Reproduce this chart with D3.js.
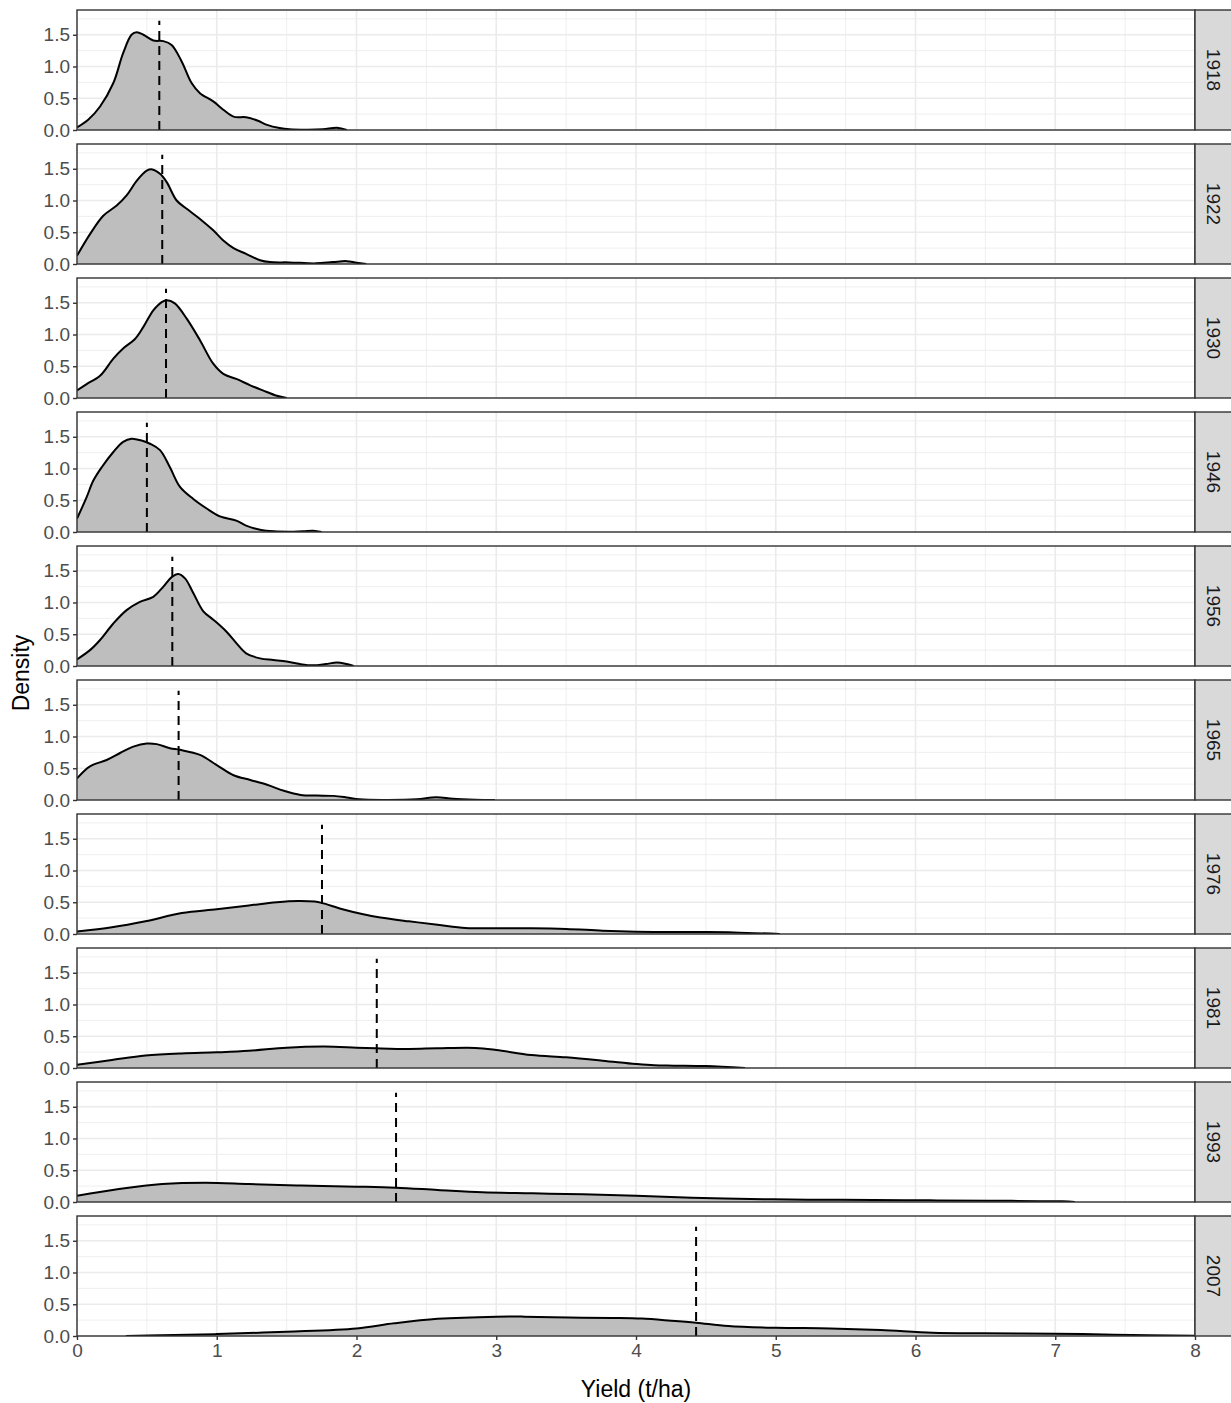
<!DOCTYPE html>
<html>
<head>
<meta charset="utf-8">
<script src="https://cdn.jsdelivr.net/npm/d3@7"></script>
<style>
  body { margin: 0; background: #ffffff; }
  svg { display: block; font-family: "Liberation Sans", Arial, Helvetica, sans-serif; }
</style>
</head>
<body>
<svg id="chart" width="1231" height="1403"></svg>
<script>
// ---------------- DATA ----------------
const years = ["1918", "1922", "1930", "1946", "1956", "1965", "1976", "1981", "1993", "2007"];
const meanYield = [0.589, 0.61, 0.637, 0.50, 0.682, 0.727, 1.753, 2.145, 2.283, 4.43];
const xTickValues = [0, 1, 2, 3, 4, 5, 6, 7, 8];
const yTickValues = [0, 0.5, 1.0, 1.5];
const yTickLabels = ["0.0", "0.5", "1.0", "1.5"];
const xTitle = "Yield (t/ha)";
const yTitle = "Density";

// density curves: [yield, density]
const dens1918 = [[0,0.04],[0.08,0.16],[0.165,0.37],[0.26,0.74],[0.33,1.21],[0.39,1.50],[0.427,1.54],[0.475,1.50],[0.546,1.41],[0.618,1.40],[0.677,1.34],[0.749,1.08],[0.82,0.74],[0.88,0.58],[0.975,0.45],[1.047,0.32],[1.12,0.21],[1.21,0.20],[1.29,0.15],[1.36,0.08],[1.45,0.03],[1.52,0.01],[1.65,0.003],[1.76,0.01],[1.86,0.035],[1.93,0.0]];
const dens1922 = [[0,0.13],[0.093,0.47],[0.188,0.76],[0.284,0.92],[0.355,1.08],[0.427,1.31],[0.499,1.47],[0.539,1.49],[0.594,1.42],[0.642,1.29],[0.713,1.00],[0.785,0.87],[0.88,0.71],[0.975,0.53],[1.047,0.37],[1.12,0.25],[1.21,0.16],[1.31,0.06],[1.38,0.03],[1.52,0.025],[1.71,0.01],[1.83,0.03],[1.93,0.045],[2.0,0.02],[2.07,0.0]];
const dens1930 = [[0,0.12],[0.069,0.22],[0.165,0.35],[0.26,0.62],[0.33,0.78],[0.415,0.93],[0.475,1.12],[0.546,1.38],[0.606,1.51],[0.642,1.54],[0.70,1.49],[0.785,1.25],[0.88,0.91],[0.975,0.54],[1.047,0.38],[1.14,0.30],[1.24,0.20],[1.33,0.12],[1.43,0.035],[1.50,0.0]];
const dens1946 = [[0,0.21],[0.069,0.55],[0.117,0.81],[0.177,1.02],[0.26,1.26],[0.33,1.42],[0.39,1.47],[0.463,1.44],[0.522,1.39],[0.594,1.29],[0.665,1.02],[0.737,0.71],[0.832,0.52],[0.928,0.37],[1.023,0.245],[1.14,0.18],[1.21,0.10],[1.31,0.035],[1.41,0.01],[1.55,0.005],[1.62,0.01],[1.69,0.02],[1.75,0.0]];
const dens1956 = [[0,0.105],[0.093,0.25],[0.165,0.41],[0.26,0.67],[0.355,0.88],[0.45,1.01],[0.546,1.09],[0.618,1.25],[0.677,1.40],[0.725,1.45],[0.773,1.38],[0.832,1.15],[0.904,0.86],[0.975,0.73],[1.07,0.54],[1.14,0.36],[1.21,0.20],[1.31,0.12],[1.405,0.095],[1.50,0.07],[1.596,0.03],[1.69,0.01],[1.78,0.03],[1.86,0.055],[1.93,0.03],[1.98,0.0]];
const dens1965 = [[0,0.34],[0.093,0.53],[0.212,0.63],[0.308,0.74],[0.403,0.84],[0.499,0.89],[0.57,0.88],[0.665,0.815],[0.737,0.79],[0.88,0.71],[1.0,0.55],[1.12,0.39],[1.24,0.315],[1.36,0.24],[1.48,0.145],[1.6,0.08],[1.715,0.07],[1.835,0.065],[1.93,0.04],[2.02,0.01],[2.19,0.0],[2.43,0.01],[2.57,0.045],[2.69,0.02],[2.85,0.005],[2.99,0.0]];
const dens1976 = [[0,0.04],[0.25,0.105],[0.49,0.20],[0.75,0.33],[1.0,0.39],[1.23,0.45],[1.43,0.50],[1.58,0.52],[1.70,0.51],[1.75,0.49],[1.90,0.39],[2.04,0.315],[2.17,0.26],[2.375,0.20],[2.58,0.147],[2.78,0.095],[3.0,0.09],[3.25,0.09],[3.5,0.08],[3.76,0.053],[4.0,0.037],[4.27,0.03],[4.5,0.03],[4.7,0.025],[5.03,0.0]];
const dens1981 = [[0,0.05],[0.25,0.126],[0.49,0.195],[0.75,0.23],[1.0,0.247],[1.23,0.27],[1.5,0.32],[1.77,0.337],[2.0,0.32],[2.14,0.31],[2.375,0.30],[2.58,0.31],[2.85,0.316],[3.0,0.284],[3.25,0.205],[3.5,0.168],[3.76,0.116],[4.0,0.063],[4.13,0.042],[4.27,0.037],[4.5,0.03],[4.78,0.0]];
const dens1993 = [[0,0.10],[0.3,0.205],[0.61,0.284],[0.92,0.305],[1.23,0.284],[1.6,0.258],[2.0,0.242],[2.28,0.226],[2.58,0.19],[2.9,0.153],[3.26,0.137],[3.62,0.121],[4.0,0.10],[4.4,0.068],[4.82,0.047],[5.23,0.037],[5.7,0.032],[6.1,0.026],[6.53,0.02],[7.05,0.01],[7.14,0.0]];
const dens2007 = [[0.35,0.0],[0.6,0.012],[1.0,0.03],[1.5,0.068],[2.0,0.12],[2.27,0.20],[2.58,0.27],[3.0,0.305],[3.2,0.305],[3.52,0.29],[3.83,0.284],[4.04,0.274],[4.25,0.242],[4.43,0.21],[4.66,0.158],[5.0,0.13],[5.39,0.12],[5.75,0.095],[6.12,0.053],[6.48,0.042],[7.0,0.037],[7.42,0.021],[8.0,0.004]];
const densities = [dens1918, dens1922, dens1930, dens1946, dens1956, dens1965, dens1976, dens1981, dens1993, dens2007];

// ---------------- LAYOUT ----------------
const svg = d3.select("#chart");
const panelLeft = 77, panelRight = 1195;
const panelTop0 = 10, panelH = 120, panelStep = 134;
const stripW = 40;
const segTop = 1.72;

const x = d3.scaleLinear().domain([0, 8]).range([panelLeft, panelRight]);
const y = d3.scaleLinear().domain([0, 1.89]).range([panelH, 0]);

const xMinor = d3.range(0.5, 8, 1);
const yMinor = [0.25, 0.75, 1.25, 1.75];

const curve = d3.curveCatmullRom.alpha(0.5);
const area = d3.area().x(d => x(d[0])).y0(y(0)).y1(d => y(Math.max(0, d[1]))).curve(curve);
const line = d3.line().x(d => x(d[0])).y(d => y(d[1])).curve(curve);

years.forEach((yr, i) => {
  const top = panelTop0 + i * panelStep;
  const g = svg.append("g").attr("transform", `translate(0,${top})`);

  g.append("rect").attr("x", panelLeft).attr("y", 0).attr("width", panelRight - panelLeft).attr("height", panelH).attr("fill", "#ffffff");

  // minor grid
  g.selectAll(".xminor").data(xMinor).enter().append("line")
    .attr("x1", d => x(d)).attr("x2", d => x(d)).attr("y1", 0).attr("y2", panelH)
    .attr("stroke", "#ebebeb").attr("stroke-width", 0.8);
  g.selectAll(".yminor").data(yMinor).enter().append("line")
    .attr("x1", panelLeft).attr("x2", panelRight).attr("y1", d => y(d)).attr("y2", d => y(d))
    .attr("stroke", "#ebebeb").attr("stroke-width", 0.8);
  // major grid
  g.selectAll(".xmajor").data(xTickValues).enter().append("line")
    .attr("x1", d => x(d)).attr("x2", d => x(d)).attr("y1", 0).attr("y2", panelH)
    .attr("stroke", "#ebebeb").attr("stroke-width", 1.6);
  g.selectAll(".ymajor").data(yTickValues).enter().append("line")
    .attr("x1", panelLeft).attr("x2", panelRight).attr("y1", d => y(d)).attr("y2", d => y(d))
    .attr("stroke", "#ebebeb").attr("stroke-width", 1.6);

  const clipId = "clip" + i;
  g.append("clipPath").attr("id", clipId).append("rect")
    .attr("x", panelLeft).attr("y", 0).attr("width", panelRight - panelLeft).attr("height", panelH);

  const data = densities[i];
  const cg = g.append("g").attr("clip-path", `url(#${clipId})`);
  cg.append("path").datum(data).attr("d", area).attr("fill", "#bebebe");
  cg.append("path").datum(data).attr("d", line).attr("fill", "none").attr("stroke", "#000000").attr("stroke-width", 2);

  cg.append("line")
    .attr("x1", x(meanYield[i])).attr("x2", x(meanYield[i]))
    .attr("y1", y(0)).attr("y2", y(segTop))
    .attr("stroke", "#000000").attr("stroke-width", 2).attr("stroke-dasharray", "9,6");

  // panel border
  g.append("rect").attr("x", panelLeft).attr("y", 0).attr("width", panelRight - panelLeft).attr("height", panelH)
    .attr("fill", "none").attr("stroke", "#333333").attr("stroke-width", 1.4);

  // y axis
  const yAxis = d3.axisLeft(y).tickValues(yTickValues).tickFormat((d, j) => yTickLabels[j]).tickSize(4).tickPadding(3);
  const ya = g.append("g").attr("transform", `translate(${panelLeft},0)`).call(yAxis);
  ya.select(".domain").remove();
  ya.selectAll(".tick line").attr("stroke", "#333333").attr("stroke-width", 1.4);
  ya.selectAll(".tick text").attr("fill", "#4d4d4d").style("font-size", "19px").attr("font-family", null);

  // strip
  g.append("rect").attr("x", panelRight).attr("y", 0).attr("width", stripW).attr("height", panelH)
    .attr("fill", "#d9d9d9").attr("stroke", "#333333").attr("stroke-width", 1.4);
  g.append("text")
    .attr("transform", `translate(${panelRight + 18},${panelH / 2}) rotate(90)`)
    .attr("text-anchor", "middle").attr("dominant-baseline", "central")
    .attr("fill", "#1a1a1a").style("font-size", "19px").text(yr);

  if (i === years.length - 1) {
    const xAxis = d3.axisBottom(x).tickValues(xTickValues).tickFormat(d3.format("d")).tickSize(4).tickPadding(4);
    const xa = g.append("g").attr("transform", `translate(0,${panelH})`).call(xAxis);
    xa.select(".domain").remove();
    xa.selectAll(".tick line").attr("stroke", "#333333").attr("stroke-width", 1.4);
    xa.selectAll(".tick text").attr("fill", "#4d4d4d").style("font-size", "19px").attr("font-family", null);
  }
});

// axis titles
const lastBottom = panelTop0 + (years.length - 1) * panelStep + panelH;
svg.append("text")
  .attr("x", (panelLeft + panelRight) / 2).attr("y", lastBottom + 61)
  .attr("text-anchor", "middle").attr("fill", "#000000").style("font-size", "23px").text(xTitle);
svg.append("text")
  .attr("transform", `translate(29,${(panelTop0 + lastBottom) / 2}) rotate(-90)`)
  .attr("text-anchor", "middle").attr("fill", "#000000").style("font-size", "23px").text(yTitle);
</script>
</body>
</html>
